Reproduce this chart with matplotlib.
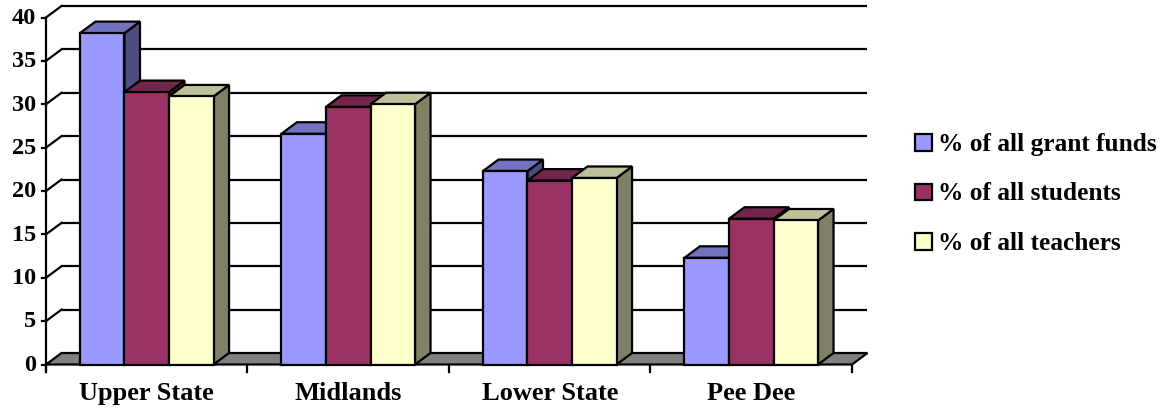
import matplotlib
matplotlib.use("Agg")
import matplotlib.pyplot as plt
from matplotlib.patches import Polygon, Rectangle

categories = ["Upper State", "Midlands", "Lower State", "Pee Dee"]
series_names = ["% of all grant funds", "% of all students", "% of all teachers"]
grant = [38.2, 26.6, 22.3, 12.3]
students = [31.4, 29.7, 21.2, 16.8]
teachers = [30.9, 30.0, 21.5, 16.6]
series = [grant, students, teachers]
yticks = [0, 5, 10, 15, 20, 25, 30, 35, 40]

front_cols = ["#9999FF", "#993366", "#FFFFCC"]
top_cols = ["#7373BF", "#73264D", "#BFBF99"]
side_cols = ["#4D4D80", "#4D1933", "#808066"]
floor_col = "#808080"

W, H = 1166, 408
fig = plt.figure(figsize=(W / 100, H / 100), dpi=100)
ax = fig.add_axes([0, 0, 1, 1])
ax.set_axis_off()

# pixel geometry -> data units
X0, GPX = 46.0, 201.5
Y0, VPX = 364.5, 8.675
ax.set_xlim(-X0 / GPX, (W - X0) / GPX)
ax.set_ylim(-(H - Y0) / VPX, Y0 / VPX)
DX = 15.5 / GPX
DY = 11.5 / VPX
px = 1.0 / GPX
py = 1.0 / VPX
lw = 1.6
font = "Liberation Serif"
n = len(categories)
ymax = yticks[-1]

# back wall gridlines and left diagonals
for v in yticks[1:]:
    ax.plot([DX, n + DX], [v + DY, v + DY], color="black", lw=lw, zorder=1,
            solid_capstyle="butt")
    ax.plot([0, DX], [v, v + DY], color="black", lw=lw, zorder=1)
    ax.plot([-4 * px, 0], [v, v], color="black", lw=lw, zorder=1)

# floor
ax.add_patch(Polygon([(0, 0), (n, 0), (n + DX, DY), (DX, DY)], closed=True,
                     facecolor=floor_col, edgecolor="black", lw=lw, zorder=2,
                     joinstyle="miter"))

# front value axis and x ticks
ax.plot([0, 0], [-7 * py, ymax], color="black", lw=lw, zorder=3)
ax.plot([-4 * px, 0], [0, 0], color="black", lw=lw, zorder=3)
for i in range(n + 1):
    ax.plot([i, i], [0, -7 * py], color="black", lw=lw, zorder=3)

# bars
bw = 0.221
start = (1 - 3 * bw) / 2
z = 4
for i in range(n):
    for s in range(3):
        v = series[s][i]
        x0 = i + start + s * bw
        x1 = x0 + bw
        front = [(x0, 0), (x1, 0), (x1, v), (x0, v)]
        top = [(x0, v), (x1, v), (x1 + DX, v + DY), (x0 + DX, v + DY)]
        side = [(x1, 0), (x1 + DX, DY), (x1 + DX, v + DY), (x1, v)]
        for poly, col in ((side, side_cols[s]), (top, top_cols[s]), (front, front_cols[s])):
            ax.add_patch(Polygon(poly, closed=True, facecolor=col, edgecolor="black",
                                 lw=lw, zorder=z, joinstyle="miter"))
        z += 1

# y tick labels
for v in yticks:
    ax.text(-10 * px, v - 0.1, str(v), ha="right", va="center", fontsize=17.5,
            fontweight="bold", family=font, zorder=10)

# category labels
for i, c in enumerate(categories):
    ax.text(i + 0.5, -(400 - Y0) * py, c, ha="center", va="baseline", fontsize=19,
            fontweight="bold", family=font, zorder=10)

# legend
sq = 16.7
baselines = [150.7, 200.2, 249.7]
for s, name in enumerate(series_names):
    b = baselines[s]
    ax.add_patch(Rectangle(((915 - X0) * px, (Y0 - b) * py), sq * px, sq * py,
                           facecolor=front_cols[s], edgecolor="black", lw=lw, zorder=10))
    ax.text((938 - X0) * px, (Y0 - b) * py, name, ha="left", va="baseline", fontsize=18.25,
            fontweight="bold", family=font, zorder=10)

fig.savefig("out.png", dpi=100)
